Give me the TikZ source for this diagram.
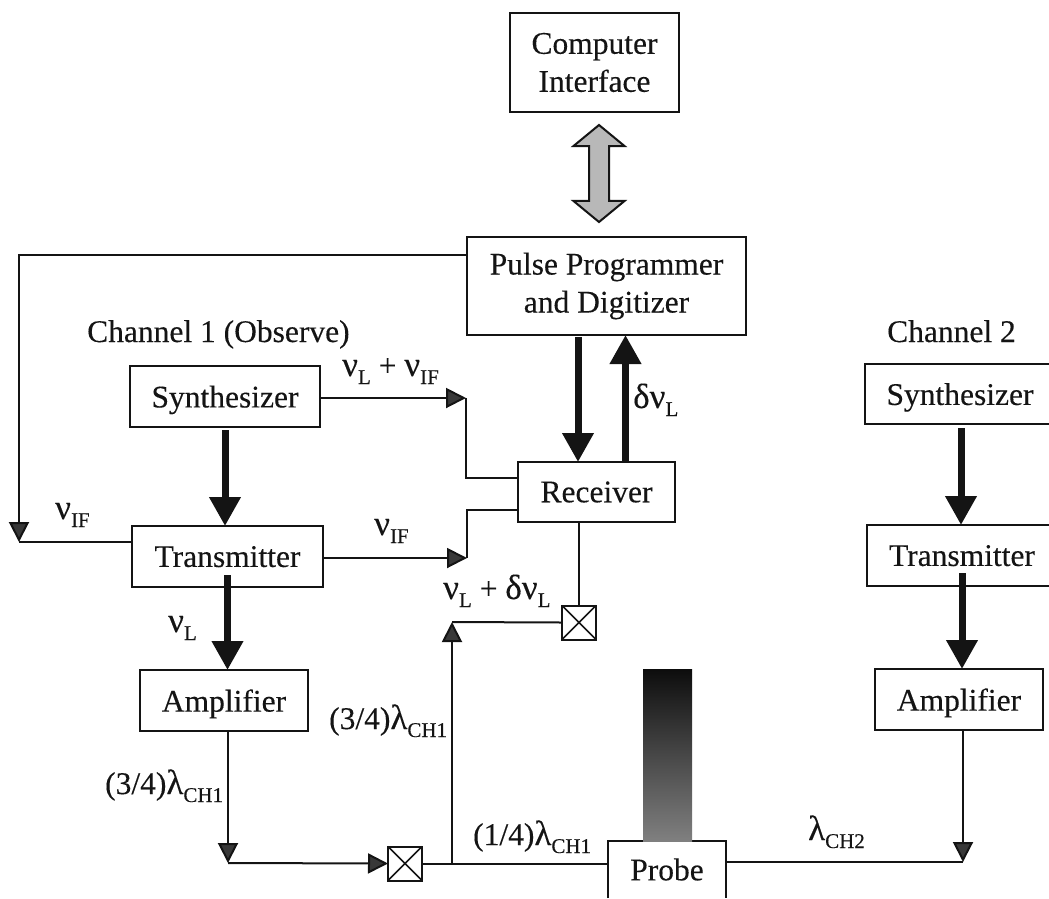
\documentclass[tikz,border=0pt]{standalone}
\usepackage{fontspec}
\setmainfont{Liberation Serif}[FakeBold=0.25]
\usetikzlibrary{arrows.meta,shapes.arrows}
\definecolor{ink}{gray}{0.08}
\newcommand{\sbs}[1]{\raisebox{-8pt}{\fontsize{21}{21}\selectfont #1}}
\newcommand{\gr}[1]{{\fontsize{35}{37}\selectfont #1}}
\tikzset{
  x=1pt,y=-1pt,
  every node/.style={font=\fontsize{31.5}{38}\selectfont,text=ink},
  block/.style={draw=ink,line width=2pt,inner sep=0pt,outer sep=0pt,align=center,fill=white},
  xbox/.style={draw=ink,line width=2pt,inner sep=0pt,outer sep=0pt,minimum width=34pt,minimum height=34pt,fill=white},
  lab/.style={inner sep=0pt,anchor=base west},
  thin line/.style={draw=ink,line width=2pt},
  thin arrow/.style={draw=ink,line width=2pt,-{Triangle[length=20pt,width=20pt,fill=ink!85!white]}},
  fat arrow/.style={draw=ink,line width=7pt,-{Triangle[length=29pt,width=30pt,fill=ink]}},
}
\begin{document}
\begin{tikzpicture}
\useasboundingbox (0,0) rectangle (1049,898);
% boxes
\node[block,minimum width=169pt,minimum height=99pt] (comp) at (594.5,62.5) {Computer\\Interface};
\node[block,minimum width=279pt,minimum height=98pt] (pulse) at (606.5,286) {\raisebox{-3pt}{Pulse Programmer}\\\raisebox{-3pt}{and Digitizer}};
\node[block,minimum width=190pt,minimum height=61pt,text depth=0pt] (syn1) at (225,396.5) {Synthesizer};
\node[block,minimum width=191pt,minimum height=61pt,text depth=0pt] (tr1) at (227.5,556.5) {Transmitter};
\node[block,minimum width=168pt,minimum height=61pt,text depth=0pt] (amp1) at (224,700.5) {Amplifier};
\node[block,minimum width=157pt,minimum height=60pt] (rec) at (596.5,492) {Receiver};
\node[block,minimum width=190pt,minimum height=60pt,text depth=0pt] (syn2) at (960,394) {Synthesizer};
\node[block,minimum width=190pt,minimum height=61pt,text depth=0pt] (tr2) at (962,555.5) {Transmitter};
\node[block,minimum width=168pt,minimum height=61pt,text depth=0pt] (amp2) at (959,699.5) {Amplifier};
\node[xbox] (x1) at (579,622.5) {};
\node[xbox] (x2) at (405,863.5) {};
\draw[ink,line width=1.6pt] (x1.north west)--(x1.south east) (x1.north east)--(x1.south west);
\draw[ink,line width=1.6pt] (x2.north west)--(x2.south east) (x2.north east)--(x2.south west);
% probe
\node[inner sep=0pt,outer sep=0pt,minimum width=118pt,minimum height=57pt] (probe) at (667,869.5) {\raisebox{-3pt}{Probe}};
\draw[ink,line width=2pt] (probe.south west)--(probe.north west)--(probe.north east)--(probe.south east);
\node[inner sep=0pt,outer sep=0pt,minimum width=49pt,minimum height=172pt,top color=black!95,bottom color=black!50,middle color=black!72] (col) at (667.5,755) {};
% double arrow
\node[draw=ink,line width=2pt,fill=black!28,shape=double arrow,rotate=90,inner xsep=0pt,inner ysep=9pt,minimum height=97pt,minimum width=49pt,double arrow head extend=15.5pt,double arrow tip angle=101] (bus) at (599,173.5) {};
% points
\coordinate (c1) at (19,542);
\coordinate (c2) at (19,254.5);
\coordinate (c3) at (466,398);
\coordinate (c4) at (467,558);
\coordinate (c5) at (452,622);
\coordinate (c6) at (452,863);
\coordinate (c7) at (228,863);
\coordinate (c8) at (963,862);
% thin connectors
\draw[thin arrow] (pulse.west |- c2) -- (c2) -- (c1);
\draw[thin line] (tr1.west |- c1) -- (c1);
\draw[thin arrow] (syn1.east |- c3) -- (c3);
\draw[thin line] (c3) |- (rec.west |- 0,478);
\draw[thin arrow] (tr1.east |- c4) -- (c4);
\draw[thin line] (c4) |- (rec.west |- 0,510);
\draw[thin line] (x1.north |- rec.south) -- (x1.north);
\draw[thin line] (x1.west) -- (c5);
\draw[thin arrow] (c6) -- (c5);
\draw[thin arrow] (c7 |- amp1.south) -- (c7);
\draw[thin arrow] (c7) -- (x2.west);
\draw[thin line] (x2.east) -- (probe.west |- x2.east);
\draw[thin line] (probe.east |- c8) -- (c8);
\draw[thin arrow] (c8 |- amp2.south) -- (c8);
% fat connectors
\draw[fat arrow] (225,430) -- (225,526);
\draw[fat arrow] (227.5,575) -- (227.5,670);
\draw[fat arrow] (578,337) -- (578,462);
\draw[fat arrow] (625.5,462) -- (625.5,335);
\draw[fat arrow] (961,428) -- (961,525);
\draw[fat arrow] (962,573) -- (962,669);
% labels
\node[lab] (t1) at (87,342) {Channel 1 (Observe)};
\node[lab] (t2) at (887,342) {Channel 2};
\node[lab] (t3) at (342,376) {\gr{ν}\sbs{L} + \gr{ν}\sbs{IF}};
\node[lab] (t4) at (55,519) {\gr{ν}\sbs{IF}};
\node[lab] (t5) at (374,535) {\gr{ν}\sbs{IF}};
\node[lab] (t6) at (168,632) {\gr{ν}\sbs{L}};
\node[lab] (t7) at (443,599) {\gr{ν}\sbs{L} + \gr{δν}\sbs{L}};
\node[lab] (t8) at (633,408) {\gr{δν}\sbs{L}};
\node[lab] (t9) at (329,729) {(3/4)\gr{λ}\sbs{CH1}};
\node[lab] (t10) at (105,794) {(3/4)\gr{λ}\sbs{CH1}};
\node[lab] (t11) at (473,845) {(1/4)\gr{λ}\sbs{CH1}};
\node[lab] (t12) at (808,840) {\gr{λ}\sbs{CH2}};
\end{tikzpicture}
\end{document}
